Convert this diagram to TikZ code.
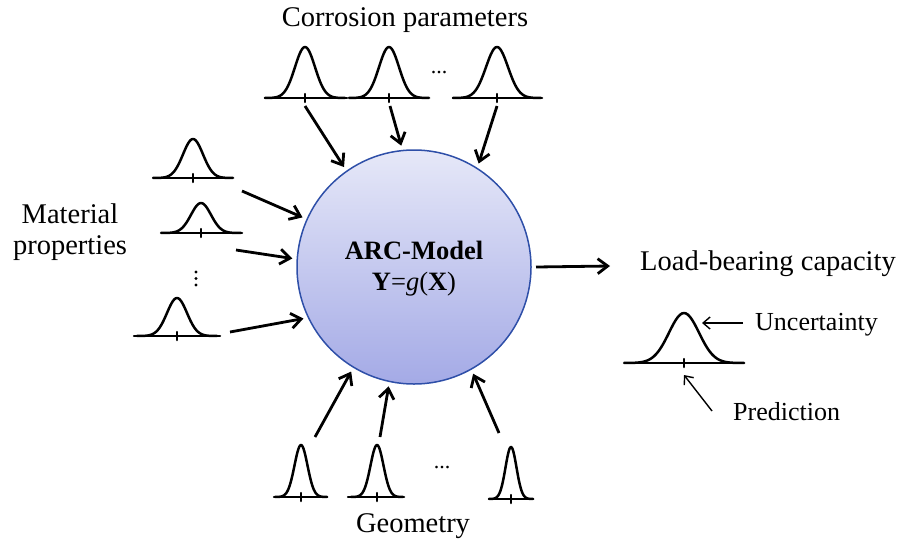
\documentclass[tikz,border=0pt]{standalone}
\usepackage{fontspec}
\setmainfont{Liberation Serif}
\usetikzlibrary{arrows.meta}
\tikzset{
  bellline/.style={line width=2.5pt, line join=round, line cap=round},
  bigarrow/.style={line width=2.8pt, -{Straight Barb[length=10pt,width=15pt,line width=2.8pt]}},
  thinarrow/.style={line width=1.4pt, -{Straight Barb[length=7pt,width=12pt,line width=1.4pt]}},
  lbl/.style={font=\fontsize{28.5}{31}\selectfont, inner sep=0pt, align=center},
  smalllbl/.style={font=\fontsize{26}{29}\selectfont, inner sep=0pt},
  dotmark/.style={fill=black, draw=none},
  model/.style={circle, minimum size=234pt, inner sep=0pt, outer sep=5pt,
    draw={rgb,255:red,46;green,79;blue,168}, line width=1.5pt,
    top color={rgb,255:red,230;green,232;blue,248},
    bottom color={rgb,255:red,164;green,170;blue,230}},
}
% #1 cx, #2 base y, #3 left, #4 right, #5 height, #6 sigma
\newcommand\bellplot[6]{%
  \draw[bellline] (#3,#2) -- (#4,#2);
  \draw[bellline] plot[domain={-4*#6}:{4*#6}, samples=61, smooth]
     ({#1+\x},{#2-#5*exp(-\x*\x/(2*#6*#6))});
  \draw[bellline] (#1,#2-4) -- (#1,#2+4);
}
\begin{document}
\begin{tikzpicture}[x=1pt,y=-1pt]
\useasboundingbox (0,0) rectangle (901,544);

% central model
\node[model] (circ) at (414,267) {};
\node[font=\fontsize{26.5}{31}\selectfont\bfseries, align=center, inner sep=0pt] (mtxt) at (414,269)
  {ARC-Model\\[0pt]Y{\mdseries=\itshape g}{\mdseries(}X{\mdseries)}};

% labels
\node[lbl] (corr) at (405,20) {Corrosion parameters};
\node[lbl] (mat) at (70,232) {Material\\properties};
\node[lbl] (geo) at (413,526) {Geometry};
\node[lbl, anchor=west] (lbc) at (640,264) {Load-bearing capacity};
\node[smalllbl, anchor=west] (unc) at (755,325) {Uncertainty};
\node[smalllbl, anchor=west] (pred) at (733,412) {Prediction};

% top distributions
\bellplot{305}{98}{265}{347}{51}{10}
\bellplot{389}{98}{356}{423}{51}{10}
\bellplot{497}{98}{453}{542}{51}{11}
\node[font=\fontsize{22}{22}\selectfont, inner sep=0pt] (tdots) at (439,73) {...};

% left distributions
\bellplot{193}{178}{155}{230}{39}{10}
\bellplot{201}{233}{162}{242}{30}{10}
\bellplot{177}{336}{134}{220}{38}{10}
\fill[dotmark] (196,272) circle (1.6);
\fill[dotmark] (196,278.5) circle (1.6);
\fill[dotmark] (196,285) circle (1.6);

% bottom distributions
\bellplot{301}{497}{274}{327}{52}{6.5}
\bellplot{377}{497}{348}{404}{52}{6.5}
\bellplot{511}{499}{489}{533}{52}{5.5}
\node[font=\fontsize{22}{22}\selectfont, inner sep=0pt] (bdots) at (442,468) {...};

% output distribution
\bellplot{684}{363}{625}{743}{50}{15}

% arrow start coordinates
\coordinate (a1) at (305,106);
\coordinate (a2) at (390,106);
\coordinate (a3) at (497,106);
\coordinate (l1) at (242,191);
\coordinate (l2) at (236,250);
\coordinate (l3) at (230,332);
\coordinate (b1) at (315,437);
\coordinate (b2) at (380,437);
\coordinate (b3) at (499,433);
\coordinate (outend) at (610,266);
\coordinate (uncs) at (743,323);
\coordinate (unce) at (702,323);
\coordinate (preds) at (712,411);
\coordinate (prede) at (684,375);

\draw[bigarrow] (a1) -- (circ.125);
\draw[bigarrow] (a2) -- (circ.96);
\draw[bigarrow] (a3) -- (circ.58);
\draw[bigarrow] (l1) -- (circ.156);
\draw[bigarrow] (l2) -- (circ.176);
\draw[bigarrow] (l3) -- (circ.205);
\draw[bigarrow] (b1) -- (circ.239);
\draw[bigarrow] (b2) -- (circ.258);
\draw[bigarrow] (b3) -- (circ.299);
\draw[bigarrow] (circ.0) -- (outend);
\draw[thinarrow] (uncs) -- (unce);
\draw[thinarrow] (preds) -- (prede);
\end{tikzpicture}
\end{document}
